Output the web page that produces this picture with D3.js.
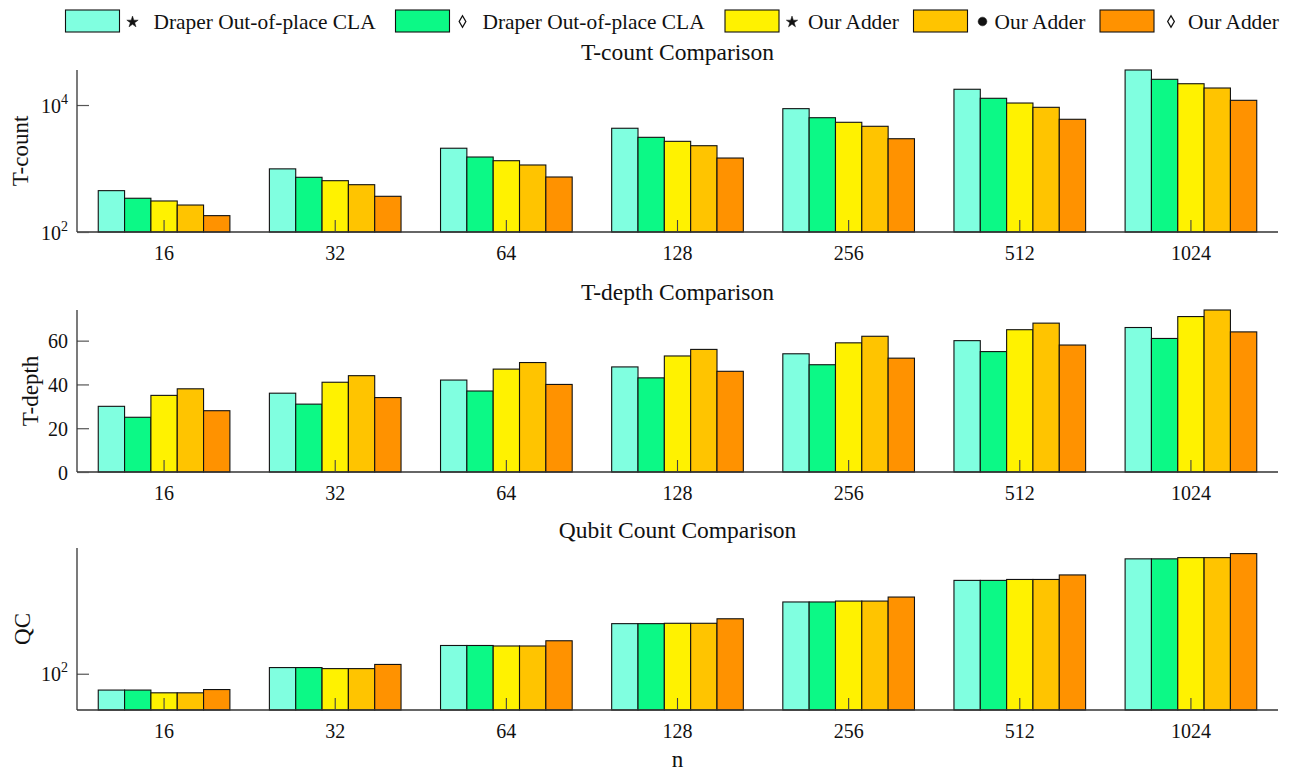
<!DOCTYPE html>
<html>
<head>
<meta charset="utf-8">
<script src="https://cdn.jsdelivr.net/npm/d3@7"></script>
<style>
  html, body { margin: 0; padding: 0; background: #fff; }
  svg text { font-family: "Liberation Serif", "Times New Roman", serif; fill: #111; }
</style>
</head>
<body>
<svg id="chart" width="1298" height="773"></svg>
<script>
// ---- data ----
const categories = ['16', '32', '64', '128', '256', '512', '1024'];
const seriesKeys = ['draperStar', 'draperDiamond', 'ourStar', 'ourDot', 'ourDiamond'];
const seriesNames = ['Draper Out-of-place CLA', 'Draper Out-of-place CLA', 'Our Adder', 'Our Adder', 'Our Adder'];
const seriesMarks = ['star', 'diamond', 'star', 'dot', 'diamond'];
const seriesColors = ['#80FFE0', '#0CF986', '#FFF200', '#FFC400', '#FF9200'];

// T-count
const tCountDraperStar    = [448, 987, 2086, 4305, 8764, 17703, 35602];
const tCountDraperDiamond = [340, 727, 1517, 3099, 6310, 12760, 25400];
const tCountOurStar       = [308, 643, 1327, 2679, 5343, 10750, 21640];
const tCountOurDot        = [266, 556, 1136, 2286, 4623, 9200, 18530];
const tCountOurDiamond    = [181, 365, 735, 1462, 2945, 5960, 11860];

// T-depth
const tDepthDraperStar    = [30, 36, 42, 48, 54, 60, 66];
const tDepthDraperDiamond = [25, 31, 37, 43, 49, 55, 61];
const tDepthOurStar       = [35, 41, 47, 53, 59, 65, 71];
const tDepthOurDot        = [38, 44, 50, 56, 62, 68, 74];
const tDepthOurDiamond    = [28, 34, 40, 46, 52, 58, 64];

// Qubit count
const qcDraperStar    = [59, 122, 249, 504, 1015, 2038, 4085];
const qcDraperDiamond = [59, 122, 249, 504, 1015, 2038, 4085];
const qcOurStar       = [54, 118, 245, 510, 1045, 2100, 4250];
const qcOurDot        = [54, 118, 245, 510, 1045, 2100, 4250];
const qcOurDiamond    = [60, 135, 290, 590, 1190, 2430, 4840];

// tick values
const tCountTicks = [100, 10000];
const tDepthTicks = [0, 20, 40, 60];
const qcTicks = [100];

// ---- layout ----
const svg = d3.select('#chart');
const axisLeft = 77, axisRight = 1278;

const x = d3.scaleBand().domain(categories).range([78.5, 1276.5])
  .paddingInner(1 - 5 / 6.5).paddingOuter((1 - 5 / 6.5) / 2);
const xs = d3.scaleBand().domain(seriesKeys).range([0, x.bandwidth()]);
const color = d3.scaleOrdinal().domain(seriesKeys).range(seriesColors);

function superLabel(sel, v) {
  const e = Math.round(Math.log10(v));
  sel.text('10');
  sel.append('tspan').attr('dy', -9).attr('font-size', 14).text(e);
}

const panels = [
  {
    title: 'T-count Comparison', ylabel: 'T-count', labelX: 20,
    top: 70, bottom: 232, log: true, ticks: tCountTicks, domainMin: 100, domainMax: null,
    series: [tCountDraperStar, tCountDraperDiamond, tCountOurStar, tCountOurDot, tCountOurDiamond]
  },
  {
    title: 'T-depth Comparison', ylabel: 'T-depth', labelX: 30,
    top: 310, bottom: 472, log: false, ticks: tDepthTicks, domainMin: 0, domainMax: null,
    series: [tDepthDraperStar, tDepthDraperDiamond, tDepthOurStar, tDepthOurDot, tDepthOurDiamond]
  },
  {
    title: 'Qubit Count Comparison', ylabel: 'QC', labelX: 22,
    top: 548, bottom: 710, log: true, ticks: qcTicks, domainMin: 31, domainMax: 5800,
    series: [qcDraperStar, qcDraperDiamond, qcOurStar, qcOurDot, qcOurDiamond]
  }
];

panels.forEach(p => {
  const g = svg.append('g');
  const maxV = p.domainMax != null ? p.domainMax : d3.max(p.series, s => d3.max(s));
  const y = (p.log ? d3.scaleLog() : d3.scaleLinear())
    .domain([p.domainMin, maxV]).range([p.bottom, p.top]);

  // bars
  p.series.forEach((vals, j) => {
    const key = seriesKeys[j];
    g.append('g').selectAll('rect')
      .data(vals.map((v, i) => ({ cat: categories[i], v })))
      .join('rect')
      .attr('x', d => x(d.cat) + xs(key))
      .attr('y', d => y(d.v))
      .attr('width', xs.bandwidth())
      .attr('height', d => p.bottom - y(d.v))
      .attr('fill', color(key))
      .attr('stroke', '#111')
      .attr('stroke-width', 1.1);
  });

  // x axis: baseline, inward ticks, labels
  g.append('line').attr('x1', axisLeft).attr('x2', axisRight)
    .attr('y1', p.bottom).attr('y2', p.bottom)
    .attr('stroke', '#333').attr('stroke-width', 1.3);
  const xAxis = d3.axisBottom(x).tickSizeInner(-12).tickSizeOuter(0).tickPadding(14);
  const xg = g.append('g').attr('transform', `translate(0,${p.bottom})`).call(xAxis);
  xg.select('.domain').remove();
  xg.selectAll('.tick line').attr('stroke', '#444').attr('stroke-width', 1.1);
  xg.selectAll('.tick text').attr('font-size', 20).attr('font-family', 'Liberation Serif').attr('fill', '#111');

  // y axis
  const yAxis = d3.axisLeft(y).tickValues(p.ticks).tickSizeInner(-12).tickSizeOuter(0).tickPadding(22);
  const yg = g.append('g').attr('transform', `translate(${axisLeft},0)`).call(yAxis);
  yg.select('.domain').remove();
  g.append('line').attr('x1', axisLeft).attr('x2', axisLeft)
    .attr('y1', p.top).attr('y2', p.bottom)
    .attr('stroke', '#333').attr('stroke-width', 1.3);
  yg.selectAll('.tick line').attr('stroke', '#555').attr('stroke-width', 1.2);
  yg.selectAll('.tick text')
    .attr('font-size', 20).attr('font-family', 'Liberation Serif').attr('fill', '#111')
    .attr('x', -9).attr('dy', '0.35em');
  if (p.log) {
    yg.selectAll('.tick text').each(function (d) { superLabel(d3.select(this), d); });
  }

  // title
  svg.append('text').attr('x', (axisLeft + axisRight) / 2).attr('y', p.top - 10)
    .attr('text-anchor', 'middle').attr('font-size', 23.5).text(p.title);

  // y label
  svg.append('text')
    .attr('transform', `translate(${p.labelX},${(p.top + p.bottom) / 2}) rotate(-90)`)
    .attr('text-anchor', 'middle').attr('dy', '0.35em').attr('font-size', 23).text(p.ylabel);
});

// x-axis title
svg.append('text').attr('x', (axisLeft + axisRight) / 2).attr('y', 767)
  .attr('text-anchor', 'middle').attr('font-size', 23).text('n');

// ---- legend ----
const legendX = [65.5, 395.5, 725, 913.5, 1100];
const legendSymDx = [13, 13, 13, 15, 17];
const legendTextDx = [34, 33, 29, 27, 34];
const symbolType = { star: d3.symbolStar, diamond: d3.symbolDiamond, dot: d3.symbolCircle };
const symbolSize = { star: 40, diamond: 38, dot: 60 };

const legend = svg.append('g');
seriesKeys.forEach((key, j) => {
  const lg = legend.append('g').attr('transform', `translate(${legendX[j]},10)`);
  lg.append('rect').attr('width', 54).attr('height', 22)
    .attr('fill', color(key)).attr('stroke', '#111').attr('stroke-width', 1.1);
  const m = seriesMarks[j];
  lg.append('path')
    .attr('d', d3.symbol().type(symbolType[m]).size(symbolSize[m])())
    .attr('transform', `translate(${54 + legendSymDx[j]},${m === 'star' ? 12 : 11.5})`)
    .attr('fill', m === 'diamond' ? 'none' : '#111')
    .attr('stroke', '#111').attr('stroke-width', m === 'diamond' ? 1.3 : 0.5);
  lg.append('text').attr('x', 54 + legendTextDx[j]).attr('y', 18.5)
    .attr('font-size', 21.4).text(seriesNames[j]);
});
</script>
</body>
</html>
